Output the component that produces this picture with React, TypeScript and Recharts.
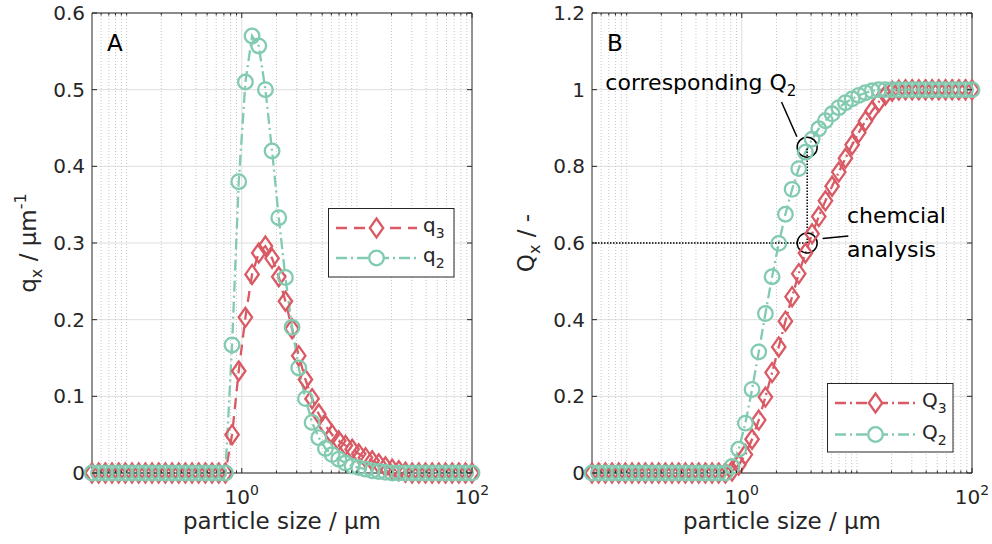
import React from 'react';
import {
  LineChart,
  Line,
  XAxis,
  YAxis,
  CartesianGrid,
  ReferenceLine,
  ReferenceDot,
  Legend,
} from 'recharts';

// ---------------- data ----------------
const particleSize = [
  0.05, 0.0571, 0.0653, 0.0746, 0.0853, 0.0974, 0.1113, 0.1272, 0.1454, 0.1661,
  0.1898, 0.2169, 0.2479, 0.2833, 0.3237, 0.3699, 0.4227, 0.483, 0.552, 0.6307,
  0.7207, 0.8236, 0.9411, 1.0754, 1.2289, 1.4043, 1.6047, 1.8337, 2.0954, 2.3944,
  2.7361, 3.1266, 3.5728, 4.0827, 4.6653, 5.3311, 6.0919, 6.9613, 7.9548, 9.09,
  10.387, 11.87, 13.564, 15.499, 17.711, 20.239, 23.127, 26.427, 30.199, 34.508,
  39.433, 45.061, 51.491, 58.839, 67.236, 76.832, 87.796, 100,
];

const q3 = [
  0, 0, 0, 0, 0, 0, 0, 0, 0, 0, 0, 0, 0, 0, 0, 0, 0, 0, 0, 0, 0,
  0.05, 0.133, 0.203, 0.259, 0.287, 0.296, 0.28, 0.256, 0.224, 0.188,
  0.153, 0.122, 0.097, 0.077, 0.062, 0.05, 0.042, 0.036, 0.031, 0.025,
  0.02, 0.016, 0.012, 0.008, 0.005, 0.003, 0.001,
  0, 0, 0, 0, 0, 0, 0, 0, 0, 0,
];

const q2 = [
  0, 0, 0, 0, 0, 0, 0, 0, 0, 0, 0, 0, 0, 0, 0, 0, 0, 0, 0, 0, 0,
  0.167, 0.38, 0.51, 0.57, 0.557, 0.5, 0.42, 0.333, 0.255, 0.19,
  0.137, 0.097, 0.066, 0.046, 0.032, 0.024, 0.018, 0.013, 0.009, 0.007,
  0.005, 0.003, 0.002, 0.001,
  0, 0, 0, 0, 0, 0, 0, 0, 0, 0, 0, 0, 0,
];

const Q3 = [
  0, 0, 0, 0, 0, 0, 0, 0, 0, 0, 0, 0, 0, 0, 0, 0, 0, 0, 0, 0, 0,
  0.005, 0.021, 0.048, 0.088, 0.138, 0.198, 0.262, 0.329, 0.396, 0.46,
  0.52, 0.574, 0.624, 0.669, 0.71, 0.748, 0.785, 0.821, 0.856, 0.888,
  0.918, 0.945, 0.968, 0.986, 0.996, 0.999,
  1, 1, 1, 1, 1, 1, 1, 1, 1, 1, 1,
];

const Q2 = [
  0, 0, 0, 0, 0, 0, 0, 0, 0, 0, 0, 0, 0, 0, 0, 0, 0, 0, 0, 0, 0,
  0.017, 0.062, 0.13, 0.218, 0.316, 0.416, 0.512, 0.599, 0.675, 0.74,
  0.794, 0.837, 0.871, 0.898, 0.919, 0.937, 0.953, 0.966, 0.976, 0.985,
  0.992, 0.997,
  1, 1, 1, 1, 1, 1, 1, 1, 1, 1, 1, 1, 1, 1, 1,
];

const xDomain: [number, number] = [0.05, 100];
const xTicks = [
  0.06, 0.07, 0.08, 0.09, 0.1, 0.2, 0.3, 0.4, 0.5, 0.6, 0.7, 0.8, 0.9,
  1, 2, 3, 4, 5, 6, 7, 8, 9, 10, 20, 30, 40, 50, 60, 70, 80, 90, 100,
];
const xLabelTicks = [1, 100];
const yTicksA = [0, 0.1, 0.2, 0.3, 0.4, 0.5, 0.6];
const yTicksB = [0, 0.2, 0.4, 0.6, 0.8, 1, 1.2];

// annotation in panel B
const analysisSize = 3.7;
const chemicalQ3 = 0.6;
const correspondingQ2 = 0.85;

const rows = particleSize.map((s, i) => ({ size: s, q3: q3[i], q2: q2[i], Q3: Q3[i], Q2: Q2[i] }));

// ---------------- styles ----------------
const FONT = 'DejaVu Sans, sans-serif';
const AXIS = '#262626';
const RED = '#D95A64';
const TEAL = '#82CAB0';
const MAJOR_GRID = '#dedede';
const MINOR_GRID = '#c8c8c8';
const DASH = '11 7';
const DASHDOT = '11 4 2 4';
const SW = 2.3;

const minorGrid = xTicks.filter((v) => !xLabelTicks.includes(v));

// ---------------- markers ----------------
const diamondPath = (cx: number, cy: number) =>
  `M${cx},${cy - 9.5} L${cx + 6.7},${cy} L${cx},${cy + 9.5} L${cx - 6.7},${cy} Z`;

const DiamondDot = (props: any) => {
  const { cx, cy, index } = props;
  if (cx == null || cy == null) return <g key={`d${index}`} />;
  return <path key={`d${index}`} d={diamondPath(cx, cy)} fill="none" stroke={RED} strokeWidth={SW} />;
};

const CircleDot = (props: any) => {
  const { cx, cy, index } = props;
  if (cx == null || cy == null) return <g key={`c${index}`} />;
  return <circle key={`c${index}`} cx={cx} cy={cy} r={7.3} fill="none" stroke={TEAL} strokeWidth={SW} />;
};

// ---------------- ticks ----------------
const fmt = (v: number) => String(v);

const XTickBottom = (props: any) => {
  const { x, y, payload } = props;
  const v = payload.value;
  const major = xLabelTicks.includes(v);
  return (
    <g>
      <line x1={x} x2={x} y1={y} y2={y - (major ? 5 : 2.5)} stroke={AXIS} strokeWidth={1} />
      {major && (
        <text x={x} y={y + 31} textAnchor="middle" fontFamily={FONT} fontSize={20} fill={AXIS}>
          10
          <tspan dy={-9} fontSize={14}>
            {String(Math.round(Math.log10(v)))}
          </tspan>
        </text>
      )}
    </g>
  );
};

const XTickTop = (props: any) => {
  const { x, y, payload } = props;
  const major = xLabelTicks.includes(payload.value);
  return <line x1={x} x2={x} y1={y} y2={y + (major ? 5 : 2.5)} stroke={AXIS} strokeWidth={1} />;
};

const YTickLeft = (props: any) => {
  const { x, y, payload } = props;
  return (
    <g>
      <line x1={x} x2={x + 5} y1={y} y2={y} stroke={AXIS} strokeWidth={1} />
      <text x={x - 7} y={y + 7} textAnchor="end" fontFamily={FONT} fontSize={20} fill={AXIS}>
        {fmt(payload.value)}
      </text>
    </g>
  );
};

const YTickRight = (props: any) => {
  const { x, y } = props;
  return <line x1={x} x2={x - 5} y1={y} y2={y} stroke={AXIS} strokeWidth={1} />;
};

// ---------------- labels ----------------
const XLabel = (props: any) => {
  const vb = props.viewBox;
  return (
    <text x={vb.x + vb.width / 2} y={vb.y + 56} textAnchor="middle" fontFamily={FONT} fontSize={23} fill={AXIS}>
      particle size / µm
    </text>
  );
};

const YLabelA = (props: any) => {
  const vb = props.viewBox;
  const cx = vb.x + 36;
  const cy = vb.y + vb.height / 2;
  return (
    <text transform={`rotate(-90 ${cx} ${cy})`} x={cx} y={cy} textAnchor="middle" fontFamily={FONT} fontSize={23} fill={AXIS}>
      q<tspan dy={6} fontSize={16}>x</tspan>
      <tspan dy={-6}> / µm</tspan>
      <tspan dy={-10} fontSize={16}>-1</tspan>
    </text>
  );
};

const YLabelB = (props: any) => {
  const vb = props.viewBox;
  const cx = vb.x + 38;
  const cy = vb.y + vb.height / 2;
  return (
    <text transform={`rotate(-90 ${cx} ${cy})`} x={cx} y={cy} textAnchor="middle" fontFamily={FONT} fontSize={23} fill={AXIS}>
      Q<tspan dy={6} fontSize={16}>x</tspan>
      <tspan dy={-6}> / -</tspan>
    </text>
  );
};

// ---------------- legend ----------------
type Entry = { name: string; sub: string; color: string; dash: string; marker: 'd' | 'o' };

const LegendBox = ({ entries, rowsY }: { entries: Entry[]; rowsY: number[] }) => (
  <svg width={127} height={70} style={{ display: 'block', overflow: 'visible' }}>
    <rect x={0.5} y={0.5} width={125.5} height={68.5} fill="#fff" stroke={AXIS} strokeWidth={1} />
    {entries.map((e, i) => {
      const y = rowsY[i];
      return (
        <g key={e.name + e.sub}>
          <line x1={8} x2={89} y1={y} y2={y} stroke={e.color} strokeWidth={SW} strokeDasharray={e.dash} />
          {e.marker === 'd' ? (
            <path d={diamondPath(48.5, y)} fill="#fff" stroke={e.color} strokeWidth={SW} />
          ) : (
            <circle cx={48.5} cy={y} r={7.3} fill="#fff" stroke={e.color} strokeWidth={SW} />
          )}
          <text x={95} y={y + 4} fontFamily={FONT} fontSize={20} fill={AXIS}>
            {e.name}
            <tspan dy={6} fontSize={14}>
              {e.sub}
            </tspan>
          </text>
        </g>
      );
    })}
  </svg>
);

const legendA: Entry[] = [
  { name: 'q', sub: '3', color: RED, dash: DASH, marker: 'd' },
  { name: 'q', sub: '2', color: TEAL, dash: DASHDOT, marker: 'o' },
];
const legendB: Entry[] = [
  { name: 'Q', sub: '3', color: RED, dash: DASHDOT, marker: 'd' },
  { name: 'Q', sub: '2', color: TEAL, dash: DASHDOT, marker: 'o' },
];

// ---------------- shared grid pieces ----------------
const gridLines = () => [
  ...minorGrid.map((v) => (
    <ReferenceLine key={`mg${v}`} x={v} stroke={MINOR_GRID} strokeWidth={1} strokeDasharray="1 2" />
  )),
  ...xLabelTicks.filter((v) => v < 100).map((v) => (
    <ReferenceLine key={`Mg${v}`} x={v} stroke={MAJOR_GRID} strokeWidth={1} />
  )),
];

const PanelLetter = (letter: string) => (p: any) => (
  <text x={p.cx} y={p.cy} fontFamily={FONT} fontSize={23} fill="#000">
    {letter}
  </text>
);

const CorrespondingText = (p: any) => (
  <text x={p.cx} y={p.cy} fontFamily={FONT} fontSize={22} fill="#000">
    corresponding Q<tspan dy={6} fontSize={15}>2</tspan>
  </text>
);

const ChemicalText = (p: any) => (
  <text x={p.cx} y={p.cy} fontFamily={FONT} fontSize={22} fill="#000">
    chemcial
    <tspan x={p.cx} dy={34}>
      analysis
    </tspan>
  </text>
);

// ---------------- charts ----------------
const PanelA = () => (
  <LineChart width={496} height={544} data={rows} margin={{ top: 12, right: 23, bottom: 0, left: 0 }}>
    <CartesianGrid vertical={false} stroke={MAJOR_GRID} strokeWidth={1} />
    {gridLines()}
    <XAxis
      dataKey="size"
      type="number"
      scale="log"
      domain={xDomain}
      ticks={xTicks}
      interval={0}
      tickSize={0}
      tickMargin={0}
      tickLine={false}
      tick={<XTickBottom />}
      height={71}
      stroke={AXIS}
      label={<XLabel />}
    />
    <XAxis
      xAxisId="top"
      orientation="top"
      dataKey="size"
      type="number"
      scale="log"
      domain={xDomain}
      allowDataOverflow
      ticks={xTicks}
      interval={0}
      tickSize={0}
      tickMargin={0}
      tickLine={false}
      tick={<XTickTop />}
      height={1}
      stroke={AXIS}
    />
    <YAxis
      type="number"
      domain={[0, 0.6]}
      ticks={yTicksA}
      interval={0}
      tickSize={0}
      tickMargin={0}
      tickLine={false}
      tick={<YTickLeft />}
      width={92}
      stroke={AXIS}
      label={<YLabelA />}
    />
    <YAxis
      yAxisId="right"
      orientation="right"
      type="number"
      domain={[0, 0.6]}
      allowDataOverflow
      ticks={yTicksA}
      interval={0}
      tickSize={0}
      tickMargin={0}
      tickLine={false}
      tick={<YTickRight />}
      width={1}
      stroke={AXIS}
    />
    <ReferenceDot x={0.0675} y={0.551} r={0} shape={PanelLetter('A')} />
    <Line dataKey="q3" stroke={RED} strokeWidth={SW} strokeDasharray={DASH} dot={DiamondDot} activeDot={false} isAnimationActive={false} />
    <Line dataKey="q2" stroke={TEAL} strokeWidth={SW} strokeDasharray={DASHDOT} dot={CircleDot} activeDot={false} isAnimationActive={false} />
    <Legend
      layout="horizontal"
      verticalAlign="middle"
      align="center"
      content={() => <LegendBox entries={legendA} rowsY={[20, 50]} />}
      wrapperStyle={{ left: 327.5, top: 208, width: 127, height: 70 }}
    />
  </LineChart>
);

const PanelB = () => (
  <LineChart width={496} height={544} data={rows} margin={{ top: 12, right: 19, bottom: 0, left: 0 }}>
    <CartesianGrid vertical={false} stroke={MAJOR_GRID} strokeWidth={1} />
    {gridLines()}
    <XAxis
      dataKey="size"
      type="number"
      scale="log"
      domain={xDomain}
      ticks={xTicks}
      interval={0}
      tickSize={0}
      tickMargin={0}
      tickLine={false}
      tick={<XTickBottom />}
      height={71}
      stroke={AXIS}
      label={<XLabel />}
    />
    <XAxis
      xAxisId="top"
      orientation="top"
      dataKey="size"
      type="number"
      scale="log"
      domain={xDomain}
      allowDataOverflow
      ticks={xTicks}
      interval={0}
      tickSize={0}
      tickMargin={0}
      tickLine={false}
      tick={<XTickTop />}
      height={1}
      stroke={AXIS}
    />
    <YAxis
      type="number"
      domain={[0, 1.2]}
      ticks={yTicksB}
      interval={0}
      tickSize={0}
      tickMargin={0}
      tickLine={false}
      tick={<YTickLeft />}
      width={96}
      stroke={AXIS}
      label={<YLabelB />}
    />
    <YAxis
      yAxisId="right"
      orientation="right"
      type="number"
      domain={[0, 1.2]}
      allowDataOverflow
      ticks={yTicksB}
      interval={0}
      tickSize={0}
      tickMargin={0}
      tickLine={false}
      tick={<YTickRight />}
      width={1}
      stroke={AXIS}
    />
    <ReferenceDot x={0.0675} y={1.102} r={0} shape={PanelLetter('B')} />
    <Line dataKey="Q3" stroke={RED} strokeWidth={SW} strokeDasharray={DASHDOT} dot={DiamondDot} activeDot={false} isAnimationActive={false} />
    <Line dataKey="Q2" stroke={TEAL} strokeWidth={SW} strokeDasharray={DASHDOT} dot={CircleDot} activeDot={false} isAnimationActive={false} />
    <ReferenceLine
      segment={[{ x: xDomain[0], y: chemicalQ3 }, { x: analysisSize, y: chemicalQ3 }]}
      stroke="#000"
      strokeWidth={1.5}
      strokeDasharray="1.5 1.5"
    />
    <ReferenceLine
      segment={[{ x: analysisSize, y: chemicalQ3 }, { x: analysisSize, y: correspondingQ2 }]}
      stroke="#000"
      strokeWidth={1.5}
      strokeDasharray="1.5 1.5"
    />
    <ReferenceLine segment={[{ x: 2.215, y: 0.968 }, { x: 3.01, y: 0.877 }]} stroke="#000" strokeWidth={1.5} />
    <ReferenceLine segment={[{ x: 5.04, y: 0.6115 }, { x: 8.43, y: 0.618 }]} stroke="#000" strokeWidth={1.5} />
    <ReferenceDot x={analysisSize} y={correspondingQ2} r={10} fill="none" stroke="#000" strokeWidth={1.5} />
    <ReferenceDot x={analysisSize} y={chemicalQ3} r={10} fill="none" stroke="#000" strokeWidth={1.5} />
    <ReferenceDot x={0.0653} y={1.0} r={0} shape={CorrespondingText} />
    <ReferenceDot x={8.2} y={0.651} r={0} shape={ChemicalText} />
    <Legend
      layout="horizontal"
      verticalAlign="middle"
      align="center"
      content={() => <LegendBox entries={legendB} rowsY={[20, 51.5]} />}
      wrapperStyle={{ left: 330.5, top: 383, width: 127, height: 70 }}
    />
  </LineChart>
);

export default function App() {
  return (
    <div style={{ position: 'absolute', left: 0, top: 0, width: 992, height: 544, background: '#fff' }}>
      <div style={{ position: 'absolute', left: 0, top: 0 }}>
        <PanelA />
      </div>
      <div style={{ position: 'absolute', left: 496, top: 0 }}>
        <PanelB />
      </div>
    </div>
  );
}
